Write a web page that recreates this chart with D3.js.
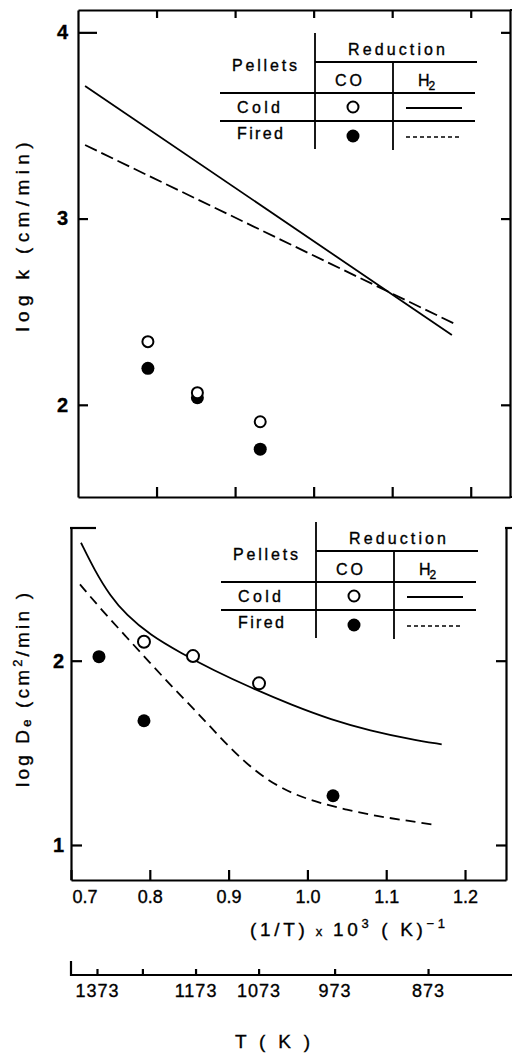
<!DOCTYPE html>
<html>
<head>
<meta charset="utf-8">
<script src="https://cdn.jsdelivr.net/npm/d3@7"></script>
<style>
  body { margin: 0; background: #fff; }
  svg { display: block; font-family: "Liberation Sans", Arial, sans-serif; }
  svg text { stroke: #000; stroke-width: 0.35; }
  .axis path, .axis line { stroke: #000; stroke-width: 2.2; }
</style>
</head>
<body>
<svg width="512" height="1055"></svg>
<script>
// ---- data ----
// top panel: log k (cm/min) vs (1/T) x 10^3
var kX       = [0.789, 0.852, 0.932];       // 1273, 1173, 1073 K
var kColdCO  = [2.339, 2.065, 1.909];
var kFiredCO = [2.196, 2.038, 1.762];
var kColdH2X  = [0.709, 1.176];
var kColdH2   = [3.712, 2.375];
var kFiredH2X = [0.709, 1.183];
var kFiredH2  = [3.395, 2.428];

// bottom panel: log De (cm2/min) vs (1/T) x 10^3
var deColdX   = [0.7926, 0.8548, 0.9386];
var deColdCO  = [2.103, 2.025, 1.877];
var deFiredX  = [0.7355, 0.7926, 1.0325];
var deFiredCO = [2.022, 1.674, 1.267];
var deColdH2X = [0.7127, 0.73, 0.75, 0.77, 0.80, 0.84, 0.88, 0.93, 0.98, 1.03, 1.08, 1.13, 1.1704];
var deColdH2  = [2.640, 2.49, 2.35, 2.25, 2.14, 2.04, 1.95, 1.85, 1.76, 1.68, 1.62, 1.575, 1.546];
var deFiredH2X = [0.7114, 0.74, 0.77, 0.80, 0.83, 0.86, 0.89, 0.92, 0.95, 0.98, 1.01, 1.05, 1.09, 1.13, 1.1641];
var deFiredH2  = [2.414, 2.27, 2.13, 1.99, 1.85, 1.72, 1.58, 1.45, 1.35, 1.28, 1.235, 1.19, 1.155, 1.13, 1.108];

var xTicks = [0.7, 0.8, 0.9, 1.0, 1.1, 1.2];
var xTickLabels = ["0.7", "0.8", "0.9", "1.0", "1.1", "1.2"];
var kTicks = [2, 3, 4];
var deTicks = [1, 2];
var temps = [1373, 1273, 1173, 1073, 973, 873];
var tempLabels = ["1373", "", "1173", "1073", "973", "873"];

var svg = d3.select("svg");

// ---- scales ----
var xTop = d3.scaleLinear().domain([0.7, 1.25]).range([78, 510]);
var yTop = d3.scaleLinear().domain([1.505, 4.12]).range([497, 10]);
var xBot = d3.scaleLinear().domain([0.7, 1.252]).range([71, 506]);
var yBot = d3.scaleLinear().domain([0.81, 2.72]).range([880, 528]);
var xT   = d3.scaleLinear().domain([0.7, 1.25]).range([74.5, 511]);

function styleAxis(g) {
  g.attr("class", "axis").attr("font-family", null).attr("font-size", null);
  g.selectAll("text").attr("fill", "#000");
}

// ---- top panel frame ----
svg.append("g").attr("transform", "translate(0,497)")
  .call(d3.axisBottom(xTop).tickValues(xTicks.slice(1)).tickSize(-10).tickSizeOuter(0).tickFormat(""))
  .call(styleAxis);
svg.append("g").attr("transform", "translate(0,10)")
  .call(d3.axisTop(xTop).tickValues(xTicks.slice(1)).tickSize(-8).tickSizeOuter(0).tickFormat(""))
  .call(styleAxis);
svg.append("g").attr("transform", "translate(78,0)")
  .call(d3.axisLeft(yTop).tickValues(kTicks).tickSize(-10).tickSizeOuter(0).tickPadding(10)
    .tickFormat(d3.format("d")))
  .call(styleAxis)
  .call(function(g) {
    g.selectAll(".tick text").attr("font-size", 20).attr("font-weight", "bold");
    g.selectAll(".tick").filter(function(d) { return d === 4; }).select("line").attr("x2", 19);
  });
svg.append("g").attr("transform", "translate(510,0)")
  .call(d3.axisRight(yTop).tickValues(kTicks).tickSize(-9).tickSizeOuter(0).tickFormat(""))
  .call(styleAxis);
svg.append("line").attr("x1", 510).attr("x2", 512).attr("y1", yTop.range()[0]).attr("y2", yTop.range()[0])
  .attr("stroke", "#000").attr("stroke-width", 2.2);
svg.append("line").attr("x1", 510).attr("x2", 512).attr("y1", yTop.range()[1]).attr("y2", yTop.range()[1])
  .attr("stroke", "#000").attr("stroke-width", 2.2);

// ---- bottom panel frame ----
svg.append("g").attr("transform", "translate(0,880)")
  .call(d3.axisBottom(xBot).tickValues(xTicks).tickSize(-10).tickSizeOuter(0).tickPadding(10)
    .tickFormat(function(d, i) { return xTickLabels[i]; }))
  .call(styleAxis)
  .call(function(g) {
    g.selectAll(".tick text").attr("font-size", 18);
    g.selectAll(".tick").filter(function(d) { return d === 0.7; }).select("text")
      .attr("text-anchor", "start").attr("x", 1);
  });
svg.append("g").attr("transform", "translate(71,0)")
  .call(d3.axisLeft(yBot).tickValues(deTicks).tickSize(-11).tickSizeOuter(0).tickPadding(7)
    .tickFormat(d3.format("d")))
  .call(styleAxis)
  .call(function(g) { g.selectAll(".tick text").attr("font-size", 20).attr("font-weight", "bold"); });
svg.append("g").attr("transform", "translate(506,0)")
  .call(d3.axisRight(yBot).tickValues(deTicks).tickSize(-10).tickSizeOuter(0).tickFormat(""))
  .call(styleAxis);
// only short pieces of the upper edge
svg.append("line").attr("x1", 70).attr("x2", 96).attr("y1", 528).attr("y2", 528)
  .attr("stroke", "#000").attr("stroke-width", 2.2);
svg.append("line").attr("x1", 505).attr("x2", 512).attr("y1", 528).attr("y2", 528)
  .attr("stroke", "#000").attr("stroke-width", 2.2);

// ---- temperature axis ----
svg.append("line").attr("x1", 71).attr("x2", 512).attr("y1", 975).attr("y2", 975)
  .attr("stroke", "#000").attr("stroke-width", 2.2);
svg.append("line").attr("x1", 71).attr("x2", 71).attr("y1", 961).attr("y2", 976)
  .attr("stroke", "#000").attr("stroke-width", 2.2);
svg.append("g").attr("transform", "translate(0,975)")
  .call(d3.axisBottom(xT).tickValues(temps.map(function(t) { return 1000 / t; }))
    .tickSize(-6).tickSizeOuter(0).tickPadding(9)
    .tickFormat(function(d, i) { return tempLabels[i]; }))
  .call(styleAxis)
  .call(function(g) {
    g.select(".domain").remove();
    g.selectAll(".tick text").attr("font-size", 18).attr("letter-spacing", 1);
  });

// ---- top panel data ----
var lineTop = d3.line().x(function(d) { return xTop(d[0]); }).y(function(d) { return yTop(d[1]); });
svg.append("path").datum(d3.zip(kColdH2X, kColdH2)).attr("d", lineTop)
  .attr("fill", "none").attr("stroke", "#000").attr("stroke-width", 1.8);
svg.append("path").datum(d3.zip(kFiredH2X, kFiredH2)).attr("d", lineTop)
  .attr("fill", "none").attr("stroke", "#000").attr("stroke-width", 1.8)
  .attr("stroke-dasharray", "13,5");

svg.append("g").selectAll("circle").data(d3.zip(kX, kFiredCO)).enter().append("circle")
  .attr("cx", function(d) { return xTop(d[0]); }).attr("cy", function(d) { return yTop(d[1]); })
  .attr("r", 6.5).attr("fill", "#000");
svg.append("g").selectAll("circle").data(d3.zip(kX, kColdCO)).enter().append("circle")
  .attr("cx", function(d) { return xTop(d[0]); }).attr("cy", function(d) { return yTop(d[1]); })
  .attr("r", 5.5).attr("fill", "#fff").attr("stroke", "#000").attr("stroke-width", 2);

// ---- bottom panel data ----
var lineBot = d3.line().curve(d3.curveBasis)
  .x(function(d) { return xBot(d[0]); }).y(function(d) { return yBot(d[1]); });
svg.append("path").datum(d3.zip(deColdH2X, deColdH2)).attr("d", lineBot)
  .attr("fill", "none").attr("stroke", "#000").attr("stroke-width", 1.8);
svg.append("path").datum(d3.zip(deFiredH2X, deFiredH2)).attr("d", lineBot)
  .attr("fill", "none").attr("stroke", "#000").attr("stroke-width", 1.8)
  .attr("stroke-dasharray", "10,6");

svg.append("g").selectAll("circle").data(d3.zip(deFiredX, deFiredCO)).enter().append("circle")
  .attr("cx", function(d) { return xBot(d[0]); }).attr("cy", function(d) { return yBot(d[1]); })
  .attr("r", 6.5).attr("fill", "#000");
svg.append("g").selectAll("circle").data(d3.zip(deColdX, deColdCO)).enter().append("circle")
  .attr("cx", function(d) { return xBot(d[0]); }).attr("cy", function(d) { return yBot(d[1]); })
  .attr("r", 6).attr("fill", "#fff").attr("stroke", "#000").attr("stroke-width", 2);

// ---- legend tables ----
function drawTable(g) {
  function hl(x1, x2, y) { g.append("line").attr("x1", x1).attr("x2", x2).attr("y1", y).attr("y2", y).attr("stroke", "#000").attr("stroke-width", 1.8); }
  function vl(x, y1, y2) { g.append("line").attr("x1", x).attr("x2", x).attr("y1", y1).attr("y2", y2).attr("stroke", "#000").attr("stroke-width", 1.8); }
  function txt(s, x, y, len, anchor) {
    return g.append("text").attr("x", x).attr("y", y).attr("font-size", 16)
      .attr("text-anchor", anchor || "start").attr("textLength", len).attr("lengthAdjust", "spacing").text(s);
  }
  vl(315, 33, 149);
  vl(393, 62, 150);
  hl(315, 477, 62);
  hl(220, 475, 93);
  hl(220, 475, 121);
  txt("Reduction", 348, 55, 97);
  txt("Pellets", 232, 71, 65);
  txt("CO", 335, 86, 27);
  var h = g.append("text").attr("x", 418).attr("y", 86).attr("font-size", 16);
  h.append("tspan").text("H");
  h.append("tspan").attr("font-size", 12).attr("dy", 4).attr("dx", -1).text("2");
  txt("Cold", 237, 113, 43);
  txt("Fired", 237, 139, 46);
  g.append("circle").attr("cx", 353).attr("cy", 107).attr("r", 5.5)
    .attr("fill", "#fff").attr("stroke", "#000").attr("stroke-width", 2);
  g.append("circle").attr("cx", 353).attr("cy", 136).attr("r", 6.5).attr("fill", "#000");
  hl(406, 462, 108);
  g.append("line").attr("x1", 406).attr("x2", 462).attr("y1", 137).attr("y2", 137)
    .attr("stroke", "#000").attr("stroke-width", 1.6).attr("stroke-dasharray", "4,3");
}
drawTable(svg.append("g"));
drawTable(svg.append("g").attr("transform", "translate(1,489)"));

// ---- axis titles ----
var yl1 = svg.append("text").attr("transform", "translate(29,237) rotate(-90)")
  .attr("text-anchor", "middle").attr("font-size", 19)
  .attr("textLength", 189).attr("lengthAdjust", "spacing");
yl1.text("log  k  (cm/min)");

var yl2 = svg.append("text").attr("transform", "translate(29,690) rotate(-90)")
  .attr("text-anchor", "middle").attr("font-size", 19)
  .attr("textLength", 194).attr("lengthAdjust", "spacing");
yl2.append("tspan").text("log  D");
yl2.append("tspan").attr("font-size", 13).attr("dy", 2).text("e");
yl2.append("tspan").attr("dy", -2).text(" (cm");
yl2.append("tspan").attr("font-size", 13).attr("dy", -7).text("2");
yl2.append("tspan").attr("dy", 7).text("/min )");

var xl = svg.append("text").attr("x", 250).attr("y", 936).attr("font-size", 19)
  .attr("textLength", 195).attr("lengthAdjust", "spacing");
xl.append("tspan").text("(1/T)");
xl.append("tspan").attr("font-size", 13).text(" x ");
xl.append("tspan").text("10");
xl.append("tspan").attr("font-size", 13).attr("dy", -8).text("3");
xl.append("tspan").attr("dy", 8).text("  ( K)");
xl.append("tspan").attr("font-size", 13).attr("dy", -8).text("\u22121");

svg.append("text").attr("x", 235).attr("y", 1048).attr("font-size", 19)
  .attr("textLength", 75).attr("lengthAdjust", "spacing").text("T (  K )");
</script>
</body>
</html>
